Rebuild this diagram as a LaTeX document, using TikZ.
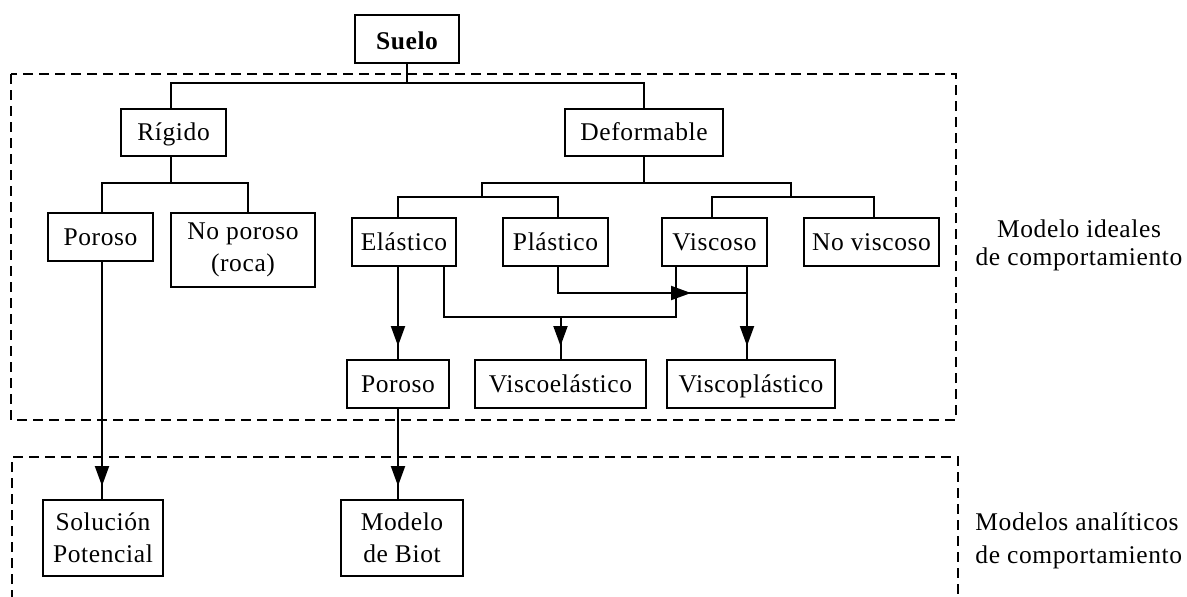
\documentclass[tikz,border=0pt]{standalone}
\usepackage{fontspec}
\setmainfont{Liberation Serif}[LetterSpace=2.4]
\usetikzlibrary{arrows.meta,decorations.markings}

\newcommand\lblfont{\fontsize{12.75}{16}\selectfont}

\begin{document}
\begin{tikzpicture}[x=0.5pt,y=-0.5pt,
  box/.style={draw, line width=1pt, inner sep=0pt, minimum height=24pt,
    text height=9pt, text depth=1pt, font=\lblfont},
  twoline/.style={draw, line width=1pt, inner sep=0pt, align=center, font=\lblfont},
  link/.style={line width=1pt},
  tipmark/.style={postaction=decorate, decoration={markings,
    mark=at position #1 with {\arrow{Triangle[length=10pt,width=7pt]}}}},
  arr/.style={link, tipmark=-6.5pt},
  dashbox/.style={line width=0.75pt, dash pattern=on 5pt off 3pt}]

% canvas
\fill[white] (0,0) rectangle (1187,596);
\useasboundingbox (0,0) rectangle (1187,596);

% group frames
\draw[dashbox] (11,74) rectangle (956,420);
\draw[dashbox] (12,600) -- (12,457) -- (958,457) -- (958,600);

% boxes
\node[box, font=\lblfont\bfseries, text height=10pt, text depth=0pt,
      minimum width=52pt] (suelo) at (407,39) {Suelo};
\node[box, minimum width=52.5pt, minimum height=23.5pt] (rigido) at (173.5,132.5) {Rígido};
\node[box, minimum width=79pt, minimum height=23.5pt] (deform) at (644,132.5) {Deformable};
\node[box, minimum width=52.5pt] (poroso1) at (100.5,237) {Poroso};
\node[twoline, minimum width=72pt, minimum height=37pt] (noporoso) at (243,250) {No poroso\\(roca)};
\node[box, minimum width=52pt] (elastico) at (404,242) {Elástico};
\node[box, minimum width=52.5pt] (plastico) at (555.5,242) {Plástico};
\node[box, minimum width=52.5pt] (viscoso) at (714.5,242) {Viscoso};
\node[box, minimum width=67.5pt] (noviscoso) at (871.5,242) {No viscoso};
\node[box, minimum width=51pt] (poroso2) at (398,384) {Poroso};
\node[box, minimum width=85.5pt] (viscoel) at (560.5,384) {Viscoelástico};
\node[box, minimum width=84pt] (viscopl) at (751,384) {Viscoplástico};
\node[twoline, minimum width=60pt, minimum height=38pt] (solucion) at (103,538) {Solución\\Potencial};
\node[twoline, minimum width=61pt, minimum height=38pt] (biot) at (402,538) {Modelo\\de Biot};

% side labels
\node[align=center, inner sep=0pt, font=\fontsize{12.75}{14}\selectfont] (ideal) at (1079,245)
  {Modelo ideales\\de comportamiento};
\node[align=left, anchor=west, inner sep=0pt, font=\fontsize{12.75}{16.5}\selectfont] (analit) at (975,540.5)
  {Modelos analíticos\\de comportamiento};

% junctions
\coordinate (j0) at (407,83);
\coordinate (j1) at (171,183);
\coordinate (j2) at (644,183);
\coordinate (j3) at (482,197);
\coordinate (j4) at (791,197);
\coordinate (e2) at (676,317);
\coordinate (v1) at (560.5,317);
\coordinate (p2) at (747,293);

% tree
\draw[link] (suelo.south) -- (j0);
\draw[link] ([xshift=-1.25pt]rigido.north) |- (j0) -| (deform.north);
\draw[link] ([xshift=-1.25pt]rigido.south) -- (j1);
\draw[link] ([xshift=0.75pt]poroso1.north) |- (j1) -| ([xshift=2.5pt]noporoso.north);
\draw[link] (deform.south) -- (j2);
\draw[link] (j3) |- (j2) -| (j4);
\draw[link] ([xshift=-3pt]elastico.north) |- (j3) -| ([xshift=1.25pt]plastico.north);
\draw[link] ([xshift=-1.25pt]viscoso.north) |- (j4) -| ([xshift=1.25pt]noviscoso.north);

% combinations
\draw[arr] ([xshift=-3pt]elastico.south) -- (poroso2.north);
\draw[link] ([xshift=20pt]elastico.south) |- (e2) -- ([xshift=-19.25pt]viscoso.south);
\draw[arr] (v1) -- (viscoel.north);
\draw[link, tipmark=-28pt] ([xshift=1.25pt]plastico.south) |- (p2);
\draw[arr] ([xshift=16.25pt]viscoso.south) -- ([xshift=-2pt]viscopl.north);

% to analytical models
\draw[arr] ([xshift=0.75pt]poroso1.south) -- ([xshift=-0.5pt]solucion.north);
\draw[arr] (poroso2.south) -- ([xshift=-2pt]biot.north);
\end{tikzpicture}
\end{document}
